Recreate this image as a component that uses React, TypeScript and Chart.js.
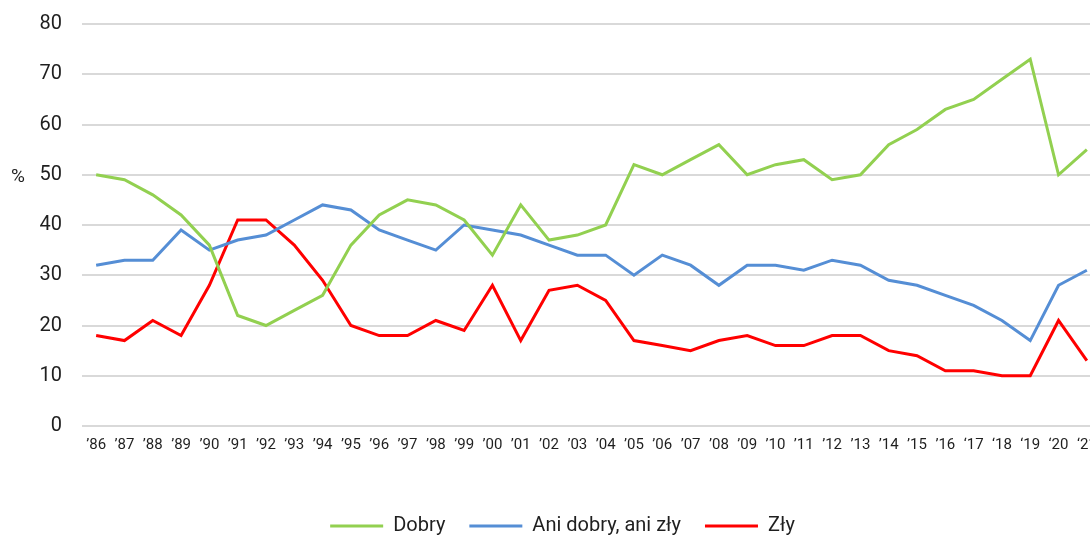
import React, { useEffect, useRef } from "react";
import { Chart, registerables } from "chart.js";

Chart.register(...registerables);

const years = ["’86","’87","’88","’89","’90","’91","’92","’93","’94","’95","’96","’97","’98","’99","’00","’01","’02","’03","’04","’05","’06","’07","’08","’09","’10","’11","’12","’13","’14","’15","’16","‘17","‘18","‘19","‘20","‘21"];

const dobry = [50,49,46,42,36,22,20,23,26,36,42,45,44,41,34,44,37,38,40,52,50,53,56,50,52,53,49,50,56,59,63,65,69,73,50,55];
const aniDobryAniZly = [32,33,33,39,35,37,38,41,44,43,39,37,35,40,39,38,36,34,34,30,34,32,28,32,32,31,33,32,29,28,26,24,21,17,28,31];
const zly = [18,17,21,18,28,41,41,36,29,20,18,18,21,19,28,17,27,28,25,17,16,15,17,18,16,16,18,18,15,14,11,11,10,10,21,13];

const seriesNames = ["Dobry", "Ani dobry, ani zły", "Zły"];
const seriesColors = ["#92d050", "#558ed5", "#ff0000"];
const yTicks = [0, 10, 20, 30, 40, 50, 60, 70, 80];

const FONT = "Roboto, 'Noto Sans', sans-serif";
const TEXT = "#1f1f1f";

const percentPlugin = {
  id: "percentLabel",
  afterDraw(chart: any) {
    const { ctx } = chart;
    const y = chart.scales.y.getPixelForValue(50);
    ctx.save();
    ctx.font = `19px ${FONT}`;
    ctx.fillStyle = TEXT;
    ctx.textAlign = "left";
    ctx.textBaseline = "middle";
    ctx.fillText("%", 11, y + 2);
    ctx.restore();
  },
};

export default function App() {
  const ref = useRef<HTMLCanvasElement>(null);

  useEffect(() => {
    document.documentElement.style.overflow = "hidden";
    document.body.style.overflow = "hidden";
    const values = [dobry, aniDobryAniZly, zly];
    const chart = new Chart(ref.current!, {
      type: "line",
      data: {
        labels: years,
        datasets: values.map((d, i) => ({
          label: seriesNames[i],
          data: d,
          borderColor: seriesColors[i],
          backgroundColor: seriesColors[i],
          borderWidth: 3,
          pointRadius: 0,
          tension: 0,
          fill: false,
        })),
      },
      options: {
        animation: false,
        responsive: false,
        maintainAspectRatio: false,
        layout: { padding: { top: 24, right: 0, bottom: 0, left: 24 } },
        plugins: {
          tooltip: { enabled: false },
          legend: {
            position: "bottom",
            maxHeight: 44,
            labels: {
              font: { family: FONT, size: 20 },
              color: TEXT,
              boxWidth: 53,
              boxHeight: 3,
              padding: 24,
              generateLabels(chart: any) {
                const items = Chart.defaults.plugins.legend.labels.generateLabels(chart);
                return items.map((it: any) => ({ ...it, lineWidth: 0 }));
              },
            },
          },
        },
        scales: {
          x: {
            offset: true,
            grid: { display: false, drawTicks: false },
            border: { display: false },
            afterFit(scale: any) {
              scale.height = 66;
              scale.paddingLeft = 0;
              scale.paddingRight = 0;
            },
            ticks: {
              font: { family: FONT, size: 15 },
              color: TEXT,
              padding: 10,
              maxRotation: 0,
              autoSkip: false,
            },
          },
          y: {
            min: 0,
            max: 80,
            afterBuildTicks(scale: any) {
              scale.ticks = yTicks.map((v) => ({ value: v }));
            },
            afterFit(scale: any) {
              scale.width = 58;
              scale.paddingTop = 0;
              scale.paddingBottom = 0;
            },
            grid: { color: "#d9d9d9", lineWidth: 2, drawTicks: false },
            border: { display: false },
            ticks: {
              font: { family: FONT, size: 20 },
              color: TEXT,
              padding: 20,
            },
          },
        },
      },
      plugins: [percentPlugin],
    });
    return () => chart.destroy();
  }, []);

  return (
    <div style={{ position: "absolute", left: 0, top: 0, width: 1101, height: 536 }}>
      <canvas ref={ref} width={1101} height={536} style={{ display: "block" }} />
    </div>
  );
}
